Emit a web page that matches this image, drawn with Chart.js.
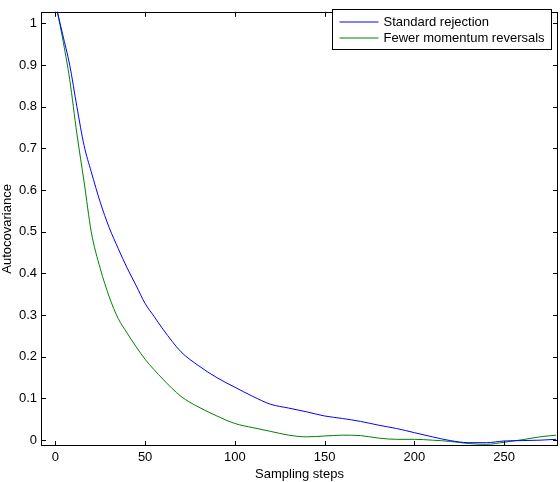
<!DOCTYPE html>
<html>
<head>
<meta charset="utf-8">
<script src="https://cdn.jsdelivr.net/npm/chart.js@4.4.1/dist/chart.umd.min.js"></script>
<style>
  html, body { margin: 0; padding: 0; background: #fff; }
  #wrap { width: 560px; height: 482px; }
</style>
</head>
<body>
<div id="wrap"><canvas id="chart"></canvas></div>
<script>
// sampling steps (x) and the two autocovariance curves
const steps = [1, 4, 8, 12, 16, 20, 25, 30, 35, 40, 45, 50, 55, 60, 70, 80, 90, 100, 110, 120,
  130, 140, 150, 160, 170, 180, 190, 200, 210, 220, 230, 240, 250, 260, 270, 279];
const standardRejection = [1.03, 0.975, 0.9, 0.80, 0.707, 0.644, 0.571, 0.51, 0.46, 0.413, 0.371, 0.328,
  0.297, 0.266, 0.212, 0.178, 0.15, 0.127, 0.105, 0.086, 0.077, 0.068, 0.058, 0.052, 0.045, 0.036,
  0.028, 0.018, 0.008, -0.001, -0.006, -0.006, -0.002, -0.001, 0.0, 0.002];
const fewerReversals = [1.03, 0.965, 0.865, 0.735, 0.62, 0.50, 0.412, 0.344, 0.292, 0.257, 0.224, 0.194,
  0.169, 0.146, 0.105, 0.079, 0.058, 0.04, 0.03, 0.021, 0.012, 0.008, 0.010, 0.012, 0.011, 0.005,
  0.002, 0.002, 0.0, -0.003, -0.008, -0.01, -0.005, 0.001, 0.008, 0.012];
const seriesNames = ["Standard rejection", "Fewer momentum reversals"];
const xTicks = [0, 50, 100, 150, 200, 250];
const yTicks = [0, 0.1, 0.2, 0.3, 0.4, 0.5, 0.6, 0.7, 0.8, 0.9, 1];

const FONT = "'Liberation Sans', Arial, sans-serif";

const toPoints = (ys) => steps.map((s, i) => ({ x: s, y: ys[i] }));

// box, inward ticks on all four sides, legend inside the axes
const matlabAxes = {
  id: "matlabAxes",
  afterDraw(chart) {
    const { ctx, chartArea: a, scales } = chart;
    ctx.save();
    ctx.strokeStyle = "#000";
    ctx.lineWidth = 1;
    ctx.strokeRect(Math.round(a.left) + 0.5, Math.round(a.top) + 0.5,
      Math.round(a.right - a.left) - 1, Math.round(a.bottom - a.top) - 1);
    const len = 5;
    ctx.beginPath();
    xTicks.forEach((v) => {
      const px = Math.round(scales.x.getPixelForValue(v)) + 0.5;
      ctx.moveTo(px, a.bottom); ctx.lineTo(px, a.bottom - len);
      ctx.moveTo(px, a.top); ctx.lineTo(px, a.top + len);
    });
    yTicks.forEach((v) => {
      const py = Math.round(scales.y.getPixelForValue(v)) + 0.5;
      ctx.moveTo(a.left, py); ctx.lineTo(a.left + len, py);
      ctx.moveTo(a.right, py); ctx.lineTo(a.right - len, py);
    });
    ctx.stroke();

    // legend
    const bx = 332.5, by = 9.5, bw = 219, bh = 40;
    ctx.fillStyle = "#fff";
    ctx.fillRect(bx, by, bw, bh);
    ctx.strokeRect(bx, by, bw, bh);
    ctx.font = "13px " + FONT;
    ctx.textBaseline = "middle";
    chart.data.datasets.forEach((ds, i) => {
      const cy = by + 12.5 + i * 16;
      ctx.strokeStyle = ds.borderColor;
      ctx.beginPath();
      ctx.moveTo(bx + 7, cy); ctx.lineTo(bx + 46, cy);
      ctx.stroke();
      ctx.fillStyle = "#000";
      ctx.fillText(ds.label, bx + 51, cy);
    });
    ctx.restore();
  }
};

new Chart(document.getElementById("chart"), {
  type: "line",
  data: {
    datasets: [
      { label: seriesNames[0], data: toPoints(standardRejection), borderColor: "#0000ff",
        borderWidth: 1, pointRadius: 0, cubicInterpolationMode: "monotone" },
      { label: seriesNames[1], data: toPoints(fewerReversals), borderColor: "#008000",
        borderWidth: 1, pointRadius: 0, cubicInterpolationMode: "monotone" }
    ]
  },
  options: {
    responsive: true,
    maintainAspectRatio: false,
    animation: false,
    devicePixelRatio: 1,
    layout: { padding: { top: 2, right: 2, left: 0, bottom: 0 } },
    plugins: { legend: { display: false }, tooltip: { enabled: false } },
    scales: {
      x: {
        type: "linear",
        min: -8,
        max: 280,
        afterFit: (s) => { s.height = 36; },
        afterBuildTicks: (s) => { s.ticks = xTicks.map((v) => ({ value: v })); },
        grid: { display: false, drawTicks: false },
        border: { display: false },
        ticks: { color: "#000", padding: 4, font: { family: FONT, size: 13 } },
        title: { display: true, text: "Sampling steps", color: "#000", padding: 0,
          font: { family: FONT, size: 13 } }
      },
      y: {
        type: "linear",
        min: -0.014,
        max: 1.028,
        afterFit: (s) => { s.width = 41; },
        afterBuildTicks: (s) => { s.ticks = yTicks.map((v) => ({ value: v })); },
        grid: { display: false, drawTicks: false },
        border: { display: false },
        ticks: { color: "#000", padding: 4, font: { family: FONT, size: 13 },
          callback: (v) => String(Math.round(v * 10) / 10) },
        title: { display: true, text: "Autocovariance", color: "#000", padding: 0,
          font: { family: FONT, size: 13 } }
      }
    }
  },
  plugins: [matlabAxes]
});
</script>
</body>
</html>
